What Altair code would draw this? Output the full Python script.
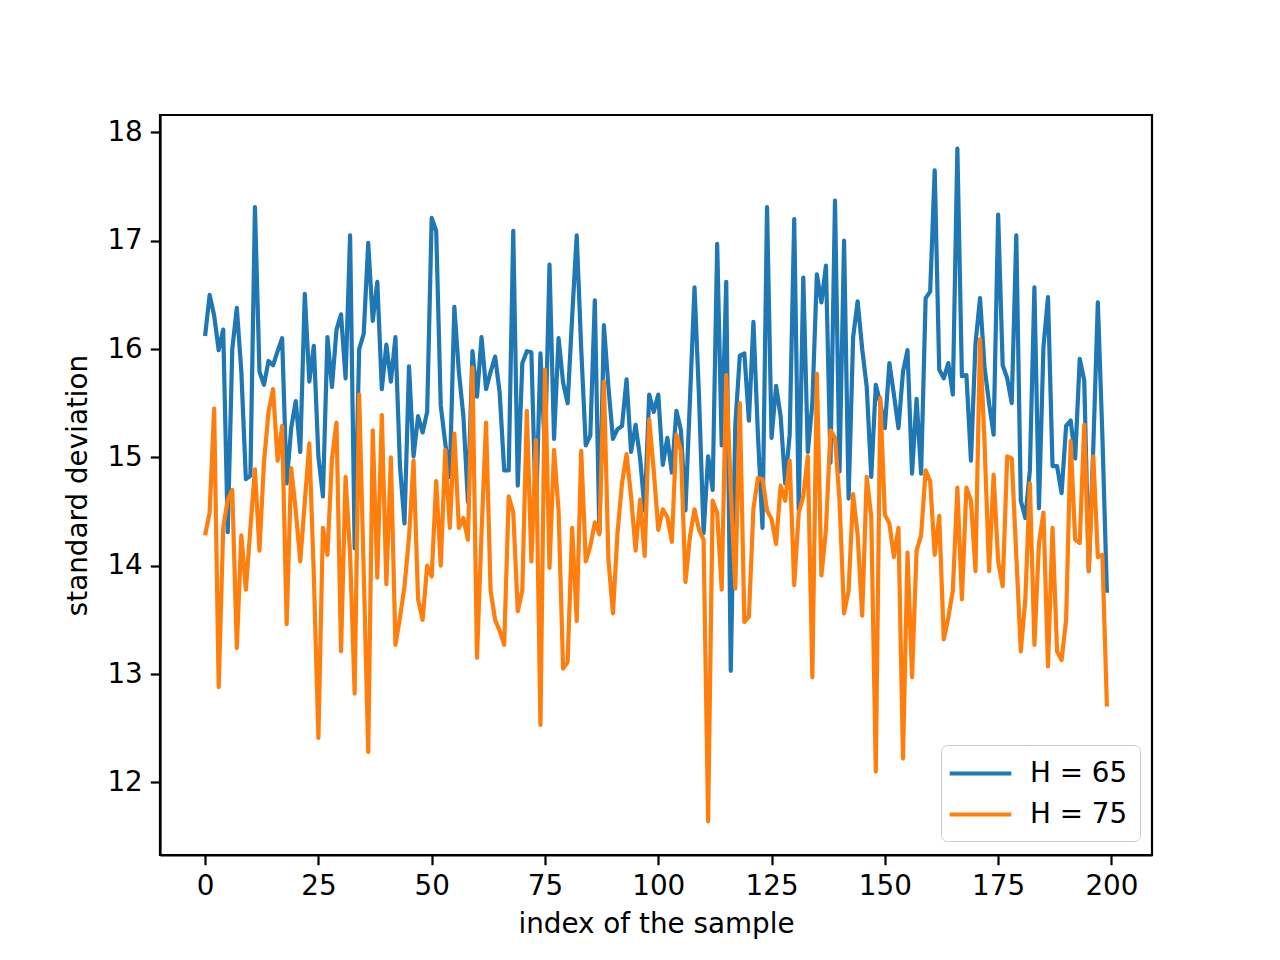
import altair as alt
import pandas as pd

blue = [16.12,16.50,16.31,15.99,16.18,14.31,16.00,16.38,15.79,14.80,
        14.83,17.31,15.79,15.67,15.89,15.85,15.98,16.10,14.76,15.27,
        15.52,15.05,16.51,15.70,16.03,15.01,14.64,16.11,15.65,16.18,
        16.32,15.73,17.05,14.16,16.00,16.14,16.98,16.26,16.62,15.63,
        16.04,15.70,16.11,14.92,14.39,15.84,15.01,15.38,15.23,15.42,
        17.21,17.09,15.48,15.13,14.82,16.39,15.79,15.38,14.59,15.98,
        15.56,16.11,15.63,15.79,15.93,15.60,14.88,14.88,17.09,14.74,
        15.87,15.98,15.97,14.45,15.96,15.05,16.78,15.17,16.10,15.69,
        15.50,16.30,17.05,16.00,15.11,15.20,16.45,14.30,16.22,15.65,
        15.17,15.26,15.29,15.72,15.05,15.30,14.99,14.51,15.58,15.42,
        15.58,14.93,15.18,14.86,15.43,15.25,14.51,15.54,16.57,15.55,
        14.30,15.01,14.70,16.97,15.11,16.62,13.03,15.30,15.94,15.96,
        15.34,16.25,15.20,14.35,17.31,15.18,15.66,15.38,14.76,15.21,
        17.20,14.51,16.66,15.05,15.50,16.69,16.43,16.77,14.95,17.37,
        14.87,17.00,14.62,16.11,16.44,16.00,15.65,14.82,15.67,15.50,
        15.27,15.87,15.58,15.27,15.79,15.99,14.85,15.54,14.85,16.47,
        16.53,17.65,15.81,15.73,15.87,15.58,17.85,15.75,15.76,14.97,
        16.05,16.47,15.83,15.50,15.21,17.24,15.85,15.73,15.50,17.05,
        14.60,14.44,14.88,16.57,14.53,16.02,16.48,14.92,14.92,14.67,
        15.29,15.34,14.99,15.91,15.71,13.95,15.10,16.43,15.20,13.75]

orange = [14.28,14.49,15.45,12.88,14.35,14.61,14.70,13.24,14.28,13.78,
          14.35,14.89,14.14,14.96,15.42,15.63,14.97,15.29,13.46,14.90,
          14.51,14.04,14.59,15.13,13.90,12.41,14.35,14.10,14.99,15.32,
          13.21,14.82,14.10,12.82,15.58,13.95,12.28,15.25,13.89,15.39,
          13.83,15.00,13.27,13.52,13.81,14.26,14.97,13.69,13.50,14.00,
          13.90,14.78,14.00,15.07,14.35,15.22,14.35,14.44,14.24,15.83,
          13.15,14.30,15.32,13.77,13.50,13.40,13.27,14.64,14.49,13.58,
          13.77,15.43,14.04,15.16,12.53,15.81,13.98,15.07,14.51,13.05,
          13.11,14.35,13.49,15.06,14.04,14.18,14.40,14.29,15.70,14.06,
          13.56,14.30,14.76,15.03,14.64,14.14,14.61,14.09,15.35,14.88,
          14.33,14.52,14.45,14.22,15.21,15.06,13.85,14.27,14.52,14.33,
          14.24,11.64,14.60,14.49,13.78,15.76,14.70,13.79,15.50,13.48,
          13.53,14.53,14.81,14.80,14.51,14.43,14.20,14.74,14.60,14.97,
          13.82,14.49,14.64,15.01,12.97,15.77,13.91,14.33,15.25,15.18,
          14.60,13.56,13.77,14.66,14.28,13.54,14.82,14.45,12.10,15.55,
          14.47,14.39,14.08,14.35,12.22,14.12,12.97,14.14,14.28,14.88,
          14.78,14.10,14.46,13.32,13.52,13.77,14.72,13.69,14.72,14.60,
          13.95,16.09,15.13,13.95,14.84,14.04,13.81,15.01,14.99,14.10,
          13.21,13.69,14.76,13.27,14.20,14.49,13.07,14.35,13.21,13.13,
          13.50,15.15,14.24,14.21,15.30,13.95,15.01,14.08,14.10,12.70]

series_names = ["H = 65", "H = 75"]
series_colors = ["#1f77b4", "#ff7f0e"]
x_ticks = [0, 25, 50, 75, 100, 125, 150, 175, 200]
y_ticks = [12, 13, 14, 15, 16, 17, 18]

rows = []
for name, vals in zip(series_names, [blue, orange]):
    for i, v in enumerate(vals):
        rows.append({"index": i, "value": v, "series": name})
df = pd.DataFrame(rows)

n = len(blue)
xr = (n - 1)
x_dom = [0 - 0.05 * xr, (n - 1) + 0.05 * xr]
allv = blue + orange
vr = max(allv) - min(allv)
y_dom = [min(allv) - 0.05 * vr, max(allv) + 0.05 * vr]

FONT = "DejaVu Sans"
FS = 27.8

chart = alt.Chart(df).mark_line(strokeWidth=4.2, strokeJoin="round", clip=True).encode(
    x=alt.X("index:Q", scale=alt.Scale(domain=x_dom, nice=False, zero=False),
            axis=alt.Axis(values=x_ticks, title="index of the sample", format="d",
                          labelPadding=8, titlePadding=10)),
    y=alt.Y("value:Q", scale=alt.Scale(domain=y_dom, nice=False, zero=False),
            axis=alt.Axis(values=y_ticks, title="standard deviation", format="d",
                          labelPadding=8, titlePadding=14)),
    color=alt.Color("series:N",
                    scale=alt.Scale(domain=series_names, range=series_colors),
                    legend=alt.Legend(title=None, orient="none", legendX=781, legendY=630,
                                      fillColor="white", strokeColor="#cccccc",
                                      cornerRadius=6, padding=12,
                                      symbolType="M-2.2,0H2.2", symbolSize=784,
                                      symbolOffset=11, symbolStrokeWidth=4.2,
                                      labelFontSize=FS, labelFont=FONT,
                                      labelColor="black", rowPadding=10,
                                      labelOffset=33)),
).properties(
    width=992, height=740,
    padding={"left": 152, "top": 107, "right": 120, "bottom": 97},
    autosize="none",
).configure_axis(
    grid=False, domainColor="black", domainWidth=2.2, tickColor="black",
    tickWidth=2.2, tickSize=9.7, labelFont=FONT, labelFontSize=FS,
    labelColor="black", titleFont=FONT, titleFontSize=FS,
    titleFontWeight="normal", titleColor="black",
).configure_view(stroke="black", strokeWidth=2.2)

chart.save("out.html", embed_options={"renderer": "svg", "actions": False})
